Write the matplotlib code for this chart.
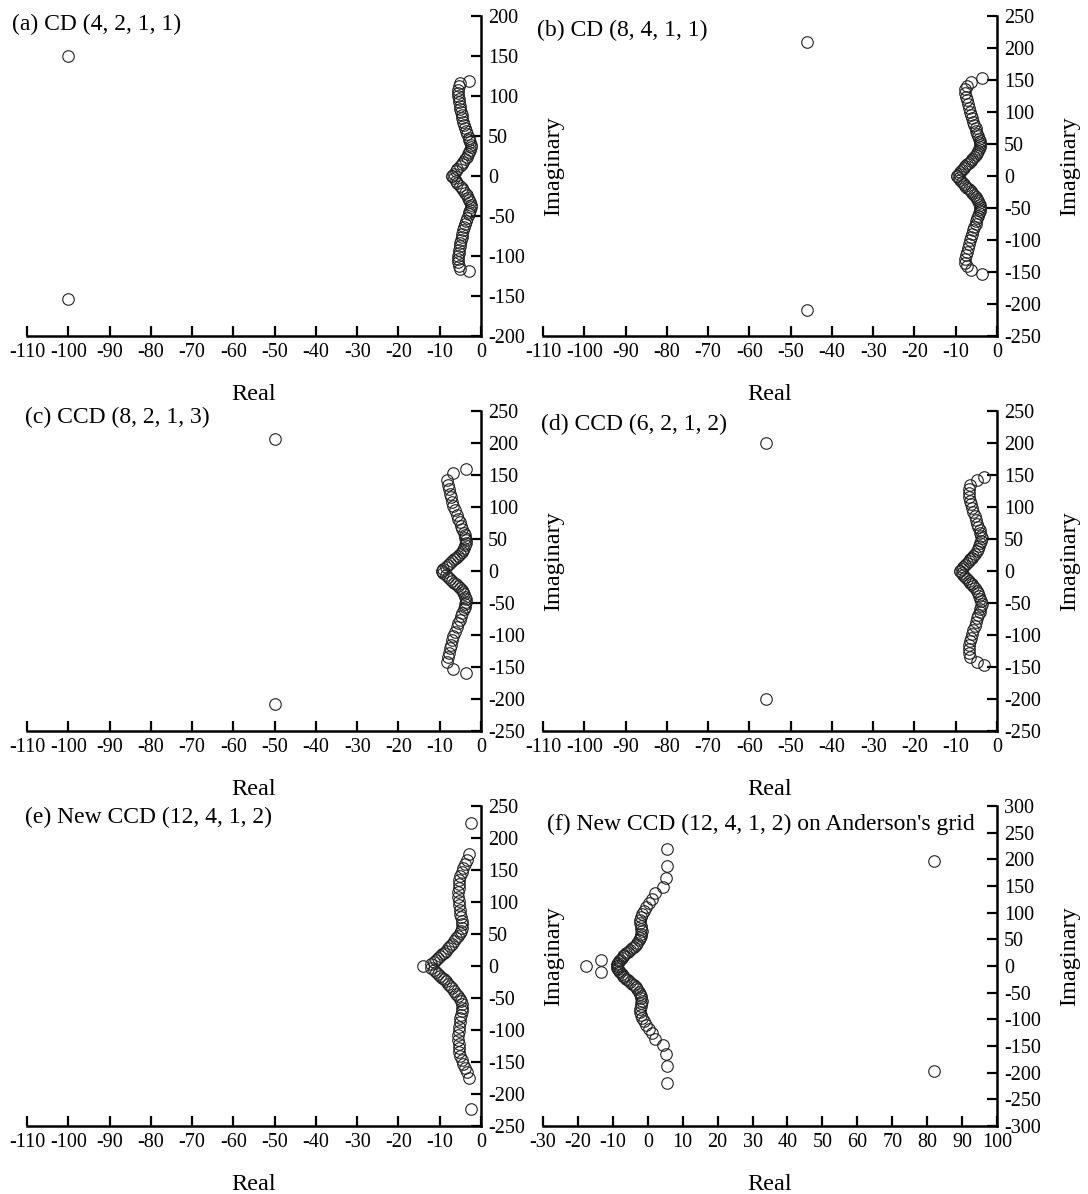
import matplotlib
matplotlib.use('Agg')
import matplotlib.pyplot as plt

plt.rcParams['font.family'] = ['Liberation Serif', 'DejaVu Serif']
plt.rcParams['axes.unicode_minus'] = False

# eigenvalues: upper half (Im >= 0); the spectrum is
# symmetric, lower half is the complex conjugate
a_re = [-7.0, -6.5, -6.0, -5.7, -5.1, -4.7, -4.3, -3.9, -3.5, -3.2, -2.9, -2.6,
        -2.4, -2.4, -2.6, -2.8, -3.0, -3.3, -3.6, -3.8, -4.0, -4.3, -4.5, -4.7,
        -4.9, -5.0, -5.2, -5.3, -5.4, -5.5, -5.5, -5.5, -5.4, -5.2, -3.0]
a_im = [0, 3, 6, 9, 12, 15, 18, 21, 24, 27, 30, 33, 36, 39, 42, 45, 48, 52, 56,
        60, 64, 68, 72, 76, 80, 84, 88, 92, 96, 100, 104, 108, 112, 116, 119]
a_out_re = [-100, -100]
a_out_im = [150, -154]

b_re = [-9.6, -9.3, -8.9, -8.5, -8.1, -7.7, -7.3, -6.8, -6.4, -6.0, -5.6, -5.2,
        -4.9, -4.6, -4.3, -4.1, -4.0, -4.0, -4.2, -4.4, -4.6, -4.8, -5.0, -5.2,
        -5.5, -5.8, -6.1, -6.4, -6.6, -6.9, -7.1, -7.3, -7.5, -7.7, -7.8, -7.3,
        -6.4, -3.7]
b_im = [0, 3, 6, 9, 12, 15, 18, 21, 24, 27, 30, 33, 36, 39, 42, 45, 48, 51, 54,
        58, 62, 66, 70, 75, 80, 85, 90, 95, 100, 106, 112, 118, 124, 130, 136,
        141, 147, 153]
b_out_re = [-46, -46]
b_out_im = [210, -210]

c_re = [-9.5, -9.1, -8.6, -8.1, -7.6, -7.1, -6.6, -6.1, -5.6, -5.1, -4.7, -4.3,
        -4.0, -3.8, -3.7, -3.7, -3.8, -3.9, -4.2, -4.5, -4.9, -5.2, -5.5, -5.9,
        -6.3, -6.7, -7.0, -7.3, -7.5, -7.8, -8.1, -8.3, -6.9, -3.6]
c_im = [0, 3, 6, 9, 12, 15, 18, 21, 24, 27, 30, 33, 36, 40, 44, 48, 52, 56, 60,
        65, 70, 76, 82, 88, 95, 102, 108, 115, 121, 128, 135, 142, 153, 160]
c_out_re = [-50, -50]
c_out_im = [207, -208]

d_re = [-8.9, -8.6, -8.2, -7.8, -7.3, -6.9, -6.5, -6.1, -5.7, -5.3, -4.9, -4.6,
        -4.3, -4.0, -3.8, -3.7, -3.8, -4.0, -4.2, -4.5, -4.8, -5.1, -5.4, -5.7,
        -6.0, -6.3, -6.6, -6.8, -6.9, -6.8, -6.5, -4.9, -3.2]
d_im = [0, 3, 6, 9, 12, 15, 18, 21, 24, 27, 31, 35, 39, 43, 47, 51, 55, 59, 64,
        69, 74, 80, 86, 92, 98, 104, 110, 116, 122, 128, 135, 142, 147]
d_out_re = [-56, -56]
d_out_im = [200, -200]

e_re = [-12.0, -11.5, -11.0, -10.5, -10.0, -9.5, -9.0, -8.5, -8.0, -7.5, -7.0,
        -6.5, -6.0, -5.6, -5.2, -4.9, -4.7, -4.6, -4.7, -4.8, -5.0, -5.2, -5.3,
        -5.4, -5.5, -5.5, -5.4, -5.3, -5.3, -5.1, -4.7, -4.4, -3.9, -3.5, -2.8,
        -2.5]
e_im = [3, 6, 9, 12, 15, 18, 21, 24, 28, 31, 35, 39, 43, 47, 51, 55, 60, 65, 70,
        76, 82, 88, 95, 102, 108, 115, 122, 128, 134, 140, 147, 153, 160, 166,
        175, 224]
e_out_re = [-14.0]
e_out_im = [0]

f_re = [-8.8, -8.7, -8.5, -8.2, -7.9, -7.5, -7.1, -6.7, -6.2, -5.7, -5.1, -4.5,
        -3.9, -3.4, -3.0, -2.6, -2.3, -2.0, -1.8, -1.7, -1.8, -2.0, -2.1, -2.1,
        -2.0, -1.7, -1.2, -0.6, 0.3, 1.2, 2.2, 4.4, 5.1, 5.4, 5.4]
f_im = [0, 3, 6, 9, 12, 15, 18, 21, 24, 27, 30, 33, 36, 40, 44, 48, 52, 56, 60,
        65, 70, 75, 80, 86, 92, 98, 104, 110, 118, 126, 136, 149, 165, 187, 220]
f_out_re = [-17.6, -13.3, -13.3, 82, 82]
f_out_im = [0, 12, -12, 196, -196]

titles = ['(a) CD (4, 2, 1, 1)', '(b) CD (8, 4, 1, 1)', '(c) CCD (8, 2, 1, 3)',
          '(d) CCD (6, 2, 1, 2)', '(e) New CCD (12, 4, 1, 2)',
          "(f) New CCD (12, 4, 1, 2) on Anderson's grid"]

W, H = 1088, 1194
fig = plt.figure(figsize=(W / 100, H / 100), dpi=100)


def px_axes(x0, y0, x1, y1):
    ax = fig.add_axes([x0 / W, 1 - y1 / H, (x1 - x0) / W, (y1 - y0) / H])
    ax.patch.set_visible(False)  # keep neighbour's "Imaginary" label visible
    return ax


def panel(ax, re, im, out_re, out_im, xlim, xstep, ylim, ystep):
    xs = re + re
    ys = im + [-v for v in im]
    ax.plot(xs + out_re, ys + out_im, 'o', ms=8.3, mfc='none', mec='#222222',
            mew=0.8, clip_on=False)
    ax.set_xlim(*xlim)
    ax.set_ylim(*ylim)
    ax.set_xticks(range(xlim[0], xlim[1] + 1, xstep))
    ax.set_yticks(range(ylim[0], ylim[1] + 1, ystep))
    ax.spines['top'].set_visible(False)
    ax.spines['left'].set_visible(False)
    for s in ('bottom', 'right'):
        ax.spines[s].set_linewidth(1.8)
    ax.yaxis.tick_right()
    ax.yaxis.set_label_position('right')
    ax.tick_params(direction='in', length=7, width=1.6, labelsize=14.5, pad=5)
    ax.set_xlabel('Real', fontsize=17.5, labelpad=16)
    ax.set_ylabel('Imaginary', fontsize=17.5, labelpad=15)
    ax.yaxis.set_label_coords(1.0 + 62 / 454, 0.53)


rows = [16, 411, 806]
left = (27, 481)
right = (543, 997)

data = [
    (a_re, a_im, a_out_re, a_out_im, (-110, 0), 10, (-200, 200), 50),
    (b_re, b_im, b_out_re, b_out_im, (-110, 0), 10, (-250, 250), 50),
    (c_re, c_im, c_out_re, c_out_im, (-110, 0), 10, (-250, 250), 50),
    (d_re, d_im, d_out_re, d_out_im, (-110, 0), 10, (-250, 250), 50),
    (e_re, e_im, e_out_re, e_out_im, (-110, 0), 10, (-250, 250), 50),
    (f_re, f_im, f_out_re, f_out_im, (-30, 100), 10, (-300, 300), 50),
]
title_pos = [(12, 24), (537, 30), (25, 417), (541, 424), (25, 817), (547, 824)]

for i, d in enumerate(data):
    top = rows[i // 2]
    x0, x1 = left if i % 2 == 0 else right
    ax = px_axes(x0, top, x1, top + 320)
    panel(ax, *d)
    tx, ty = title_pos[i]
    fig.text(tx / W, 1 - ty / H, titles[i], fontsize=17, ha='left', va='center')

fig.savefig('out.png', dpi=100)
